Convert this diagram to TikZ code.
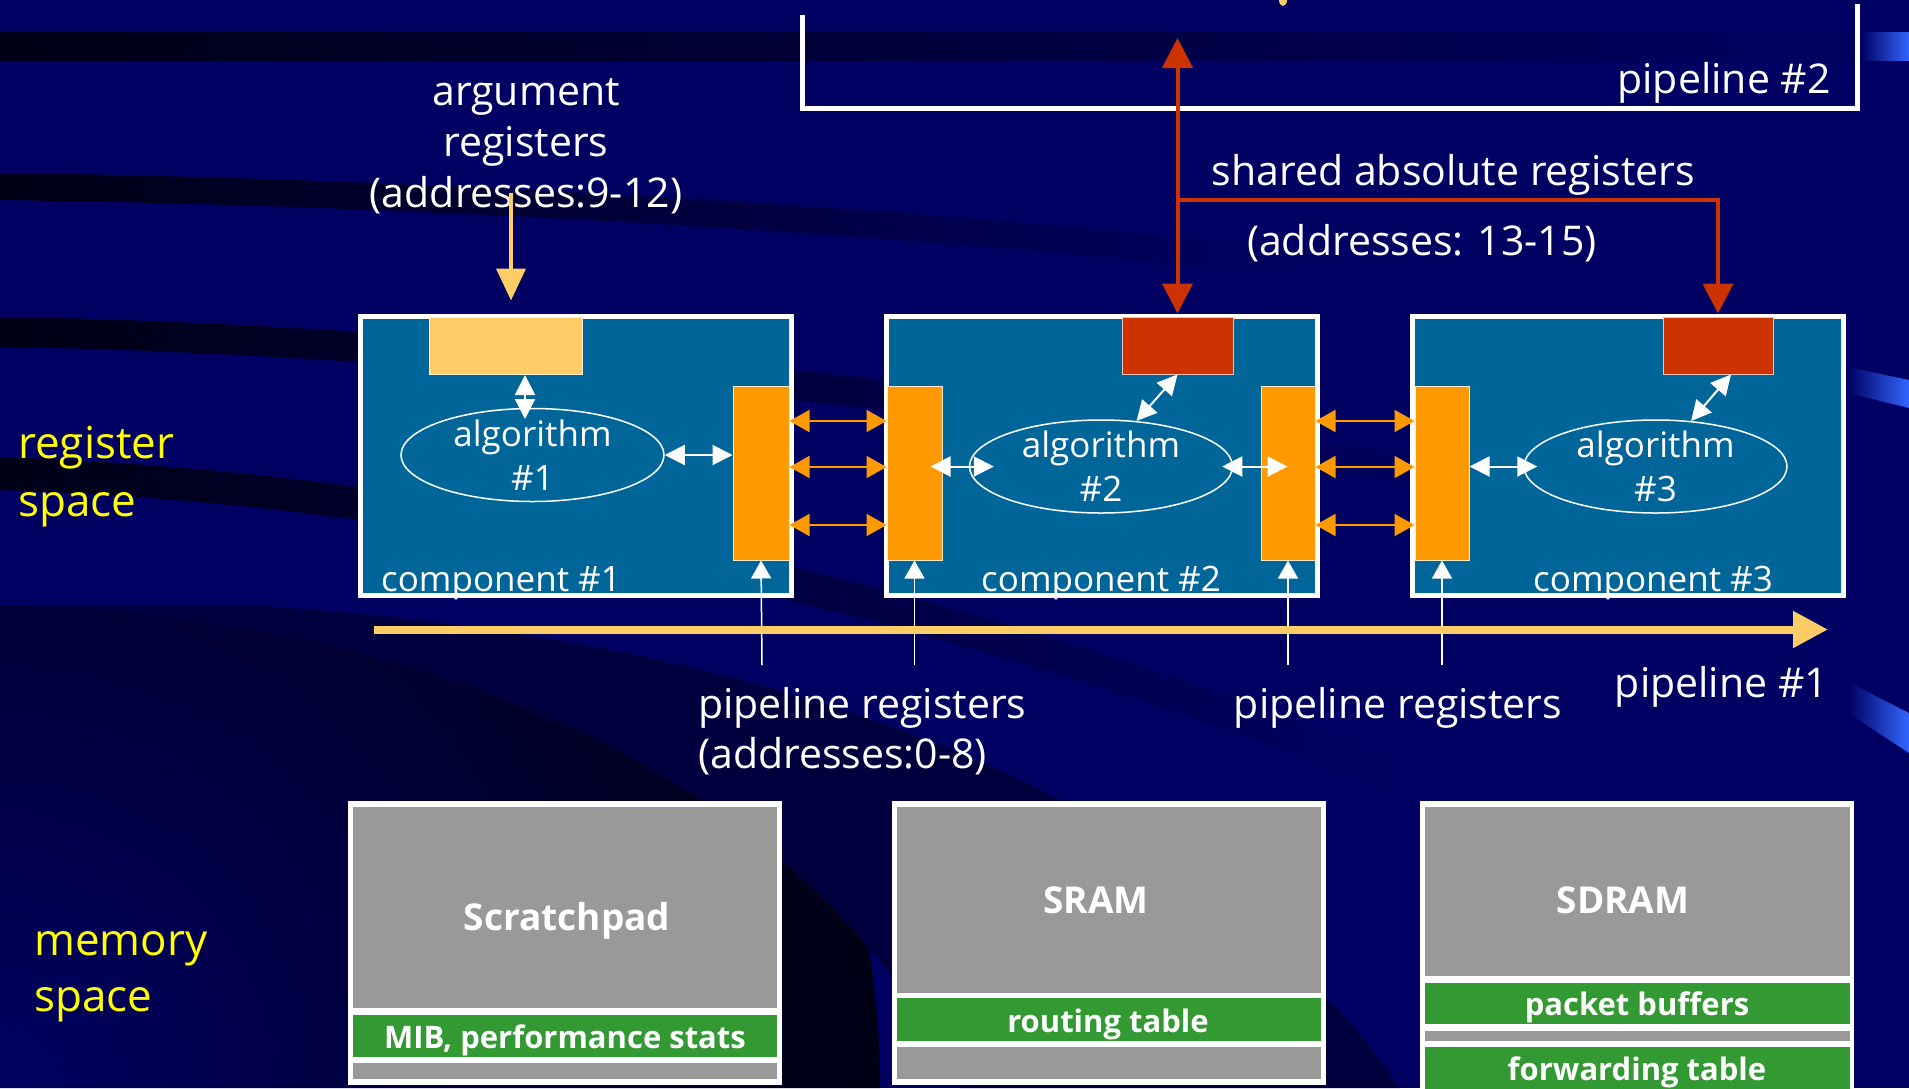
\documentclass[tikz,border=0pt]{standalone}
\usepackage{fontspec}
\setmainfont{Open Sans}
\usetikzlibrary{arrows.meta,shapes.geometric}

\definecolor{bg}{RGB}{0,0,98}
\definecolor{streak}{RGB}{0,0,22}
\definecolor{midnight}{RGB}{0,0,62}
\definecolor{bluehi}{RGB}{51,102,255}
\definecolor{compfill}{RGB}{0,102,153}
\definecolor{barorange}{RGB}{255,153,0}
\definecolor{lightorange}{RGB}{255,204,102}
\definecolor{redreg}{RGB}{204,51,0}
\definecolor{memgray}{RGB}{153,153,153}
\definecolor{memgreen}{RGB}{51,153,51}
\definecolor{yellowtxt}{RGB}{255,255,0}

\begin{document}
\begin{tikzpicture}[x=1pt,y=-1pt,
  lbl/.style={text=white, inner sep=0pt, anchor=base, font=\fontsize{41}{51}\selectfont},
  algtxt/.style={text=white, inner sep=0pt, align=center, font=\fontsize{35}{44}\selectfont},
  comptxt/.style={text=white, inner sep=0pt, anchor=base, font=\fontsize{35}{44}\selectfont},
  ylbl/.style={text=yellowtxt, inner sep=0pt, anchor=base west, font=\fontsize{44}{58}\selectfont},
  memtitle/.style={text=white, inner sep=0pt, anchor=base, font=\bfseries\fontsize{37}{44}\selectfont},
  memsub/.style={text=white, inner sep=0pt, anchor=base, font=\bfseries\fontsize{31}{38}\selectfont},
  compbox/.style={draw=white, line width=5pt, fill=compfill, inner sep=0pt, minimum width=431pt, minimum height=279pt},
  regbar/.style={draw=white!80!barorange, line width=1pt, fill=barorange, inner sep=0pt, minimum height=174pt},
  topreg/.style={draw=white!70!#1, line width=1pt, fill=#1, inner sep=0pt, minimum height=57pt},
  algell/.style={ellipse, draw=white, line width=1.5pt, inner sep=0pt, minimum width=263pt, minimum height=93pt},
  membox/.style={fill=white, inner sep=0pt, minimum width=434pt},
  wdbl/.style={white, line width=2pt, {Triangle[length=20pt,width=20pt]}-{Triangle[length=20pt,width=20pt]}},
  odbl/.style={barorange, line width=2pt, {Triangle[length=20pt,width=22pt]}-{Triangle[length=20pt,width=22pt]}},
  wup/.style={white, line width=1.5pt, -{Triangle[length=18pt,width=20pt]}},
  redtip/.style={redreg, line width=4pt, -{Triangle[length=30pt,width=30pt]}},
  reddbl/.style={redreg, line width=4pt, {Triangle[length=30pt,width=30pt]}-{Triangle[length=30pt,width=30pt]}},
]
\useasboundingbox (0,0) rectangle (1909,1088);

% ---------- backdrop ----------
\fill[bg] (0,0) rectangle (1909,1088);
\shade[left color=streak, right color=bg] (0,32) rectangle (1860,60);
\shade[left color=streak, right color=bg] (0,173) .. controls (400,178) and (900,205) .. (1300,250)
  -- (1300,277) .. controls (900,232) and (400,205) .. (0,200) -- cycle;
\shade[left color=streak, right color=bg] (0,317) .. controls (400,322) and (1000,380) .. (1500,470)
  -- (1500,500) .. controls (1000,410) and (400,352) .. (0,347) -- cycle;
\shade[left color=streak, right color=bg] (0,457) .. controls (400,470) and (900,560) .. (1400,760)
  -- (1400,795) .. controls (900,595) and (400,502) .. (0,490) -- cycle;
\fill[midnight] (0,605) .. controls (400,615) and (800,760) .. (960,1088) -- (1400,1088)
  .. controls (1200,800) and (800,640) .. (250,605) -- cycle;
\begin{scope}
  \clip (0,605) .. controls (400,615) and (800,760) .. (960,1088) -- (0,1088) -- cycle;
  \shade[inner color=bg, outer color=streak] (0,1088) circle (880);
\end{scope}
\shade[left color=bg, right color=bluehi] (1861,32) rectangle (1909,60);
\shade[left color=bg, right color=bluehi] (1848,367) -- (1909,380) -- (1909,408) -- (1848,393) -- cycle;
\shade[left color=bg, right color=bluehi] (1848,682) -- (1909,713) -- (1909,753) -- (1848,713) -- cycle;
\fill[lightorange] (1283,0) ellipse (4 and 6);

% ---------- pipeline #2 frame ----------
\draw[white, line width=5pt] (802,15) |- (1857,108) -- (1857,4);
\node[lbl] (pipe2) at (1724,93) {pipeline \#2};

% ---------- components ----------
\node[compbox] (c1) at (575.5,455.5) {};
\node[compbox] (c2) at (1101.5,455.5) {};
\node[compbox] (c3) at (1628,455.5) {};

\node[topreg=lightorange, minimum width=153pt] (arg1) at (505.5,346) {};
\node[topreg=redreg, minimum width=111pt] (red2) at (1177.5,345.5) {};
\node[topreg=redreg, minimum width=110pt] (red3) at (1718,345.5) {};

\node[regbar, minimum width=56pt] (b1) at (761,473) {};
\node[regbar, minimum width=55pt] (b2l) at (914.5,473) {};
\node[regbar, minimum width=54pt] (b2r) at (1288,473) {};
\node[regbar, minimum width=54pt] (b3l) at (1442,473) {};

\node[algell] (e1) at (532.5,455) {};
\node[algell] (e2) at (1101,466.5) {};
\node[algell] (e3) at (1655.5,466.5) {};
\node[algtxt] (t1) at (e1) {algorithm\\\#1};
\node[algtxt] (t2) at (e2) {algorithm\\\#2};
\node[algtxt] (t3) at (e3) {algorithm\\\#3};

\node[comptxt] (n1) at (501,591) {component \#1};
\node[comptxt] (n2) at (1101,591) {component \#2};
\node[comptxt] (n3) at (1653,591) {component \#3};

% links inside the components
\coordinate (a1top) at (525,375);
\coordinate (a1bot) at (525,419);
\draw[wdbl] (a1top) -- (a1bot);
\draw[wdbl] (e1.east) -- (b1.west |- e1.east);
\draw[wdbl] ([xshift=-12pt]b2l.east |- e2.center) -- ([xshift=25pt]e2.west);
\draw[wdbl] ([xshift=-11pt]e2.east) -- ([xshift=27pt]b2r.west |- e2.center);
\draw[wdbl] (b3l.east |- e3.center) -- ([xshift=14pt]e3.west);
\draw[wdbl] (red2.south) -- (e2.52);
\draw[wdbl] ([xshift=13pt]red3.south) -- (e3.52);

% links between neighbouring register bars
\foreach \yy in {421,467,525} {
  \draw[odbl] (b1.east |- 0,\yy) -- (b2l.west |- 0,\yy);
  \draw[odbl] (b2r.east |- 0,\yy) -- (b3l.west |- 0,\yy);
}

% pipeline register feeds
\coordinate (f1) at (762,665);
\coordinate (f2) at (914.5,665);
\coordinate (f3) at (1288,665);
\coordinate (f4) at (1442,665);
\draw[wup] (f1) -- (b1.south);
\draw[wup] (f2) -- (b2l.south);
\draw[wup] (f3) -- (b2r.south);
\draw[wup] (f4) -- (b3l.south);

% argument registers
\node[lbl] (argA) at (526,105) {argument};
\node[lbl] (argB) at (526,156) {registers};
\node[lbl] (argC) at (526,207) {(addresses:9-12)};
\coordinate (argstart) at (511,193);
\draw[lightorange, line width=4pt, -{Triangle[length=32pt,width=29pt]}, shorten >=13pt]
  (argstart) -- (argstart |- c1.north);

% shared absolute registers
\coordinate (p2tip) at (1177.5,38);
\coordinate (junc) at (1177.5,200);
\draw[reddbl] (red2.north |- c2.north) -- (p2tip);
\draw[redtip] (junc) -| (red3.north |- c3.north);
\node[lbl] (shA) at (1453.5,185) {shared absolute registers};
\node[lbl] (shB) at (1422,255) {(addresses: 13-15)};

% pipeline #1
\coordinate (p1start) at (374,629.5);
\coordinate (p1end) at (1828,629.5);
\draw[lightorange, line width=8pt, -{Triangle[length=35pt,width=35pt]}] (p1start) -- (p1end);
\node[lbl] (pipe1) at (1721.5,697) {pipeline \#1};

\node[lbl, anchor=base west] (prA) at (698,718) {pipeline registers};
\node[lbl, anchor=base west] (prB) at (698,768) {(addresses:0-8)};
\node[lbl] (prC) at (1398,718) {pipeline registers};

% space labels
\node[ylbl] (rs1) at (18,458) {register};
\node[ylbl] (rs2) at (18,516) {space};
\node[ylbl] (ms1) at (34,955) {memory};
\node[ylbl] (ms2) at (34,1011) {space};

% ---------- memories ----------
\node[membox, minimum height=284pt] (m1) at (565,943) {};
\node[membox, minimum height=284pt] (m2) at (1109,943) {};
\node[membox, minimum height=300pt] (m3) at (1637,951) {};

\fill[memgray] (353,807) rectangle (777,1008);
\fill[memgreen] (353,1015) rectangle (777,1057);
\fill[memgray] (353,1063) rectangle (777,1079);

\fill[memgray] (897,807) rectangle (1321,993);
\fill[memgreen] (897,998) rectangle (1321,1041);
\fill[memgray] (897,1047) rectangle (1321,1079);

\fill[memgray] (1425,807) rectangle (1850,976);
\fill[memgreen] (1425,983) rectangle (1850,1024);
\fill[memgray] (1425,1031) rectangle (1850,1041);
\fill[memgreen] (1425,1047) rectangle (1850,1100);

\node[memtitle] (sp) at (567,930) {Scratchpad};
\node[memtitle] (sr) at (1096,913) {SRAM};
\node[memtitle] (sd) at (1623,913) {SDRAM};
\node[memsub] (mib) at (565,1048) {MIB, performance stats};
\node[memsub] (rt) at (1108,1032) {routing table};
\node[memsub] (pb) at (1637,1015) {packet buffers};
\node[memsub] (ft) at (1637,1080) {forwarding table};
\end{tikzpicture}
\end{document}
